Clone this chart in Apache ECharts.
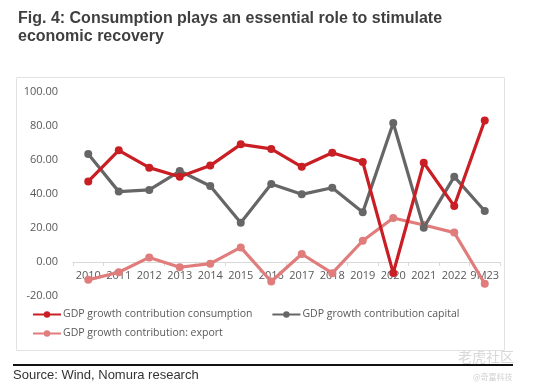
<!DOCTYPE html>
<html><head><meta charset="utf-8">
<script src="https://cdn.jsdelivr.net/npm/echarts@6/dist/echarts.min.js"></script>
<style>html,body{margin:0;padding:0;background:#fff}#c{width:534px;height:389px}</style>
</head><body><div id="c"></div>
<script>
const categories = ['2010','2011','2012','2013','2014','2015','2016','2017','2018','2019','2020','2021','2022','9M23'];
const consumption = [47.4, 65.7, 55.5, 50.2, 56.7, 69.2, 66.5, 56.0, 64.3, 58.8, -6.5, 58.4, 32.9, 83.3];
const capital = [63.5, 41.4, 42.4, 53.5, 44.7, 23.1, 45.9, 39.8, 43.7, 29.2, 81.8, 20.2, 50.2, 30.0];
const exportC = [-10.5, -6.0, 2.7, -3.1, -1.0, 8.6, -11.5, 4.7, -6.6, 12.5, 25.9, 21.8, 17.3, -12.8];
const yTicks = [-20, 0, 20, 40, 60, 80, 100];
const names = ['GDP growth contribution consumption', 'GDP growth contribution capital', 'GDP growth contribution: export'];
const colors = ['#C81E24', '#666666', '#E07C7C'];

const chart = echarts.init(document.getElementById('c'), null, {renderer: 'canvas'});
const mk = (i, data) => ({
  name: names[i], type: 'line', data: data,
  symbol: 'circle', symbolSize: 8,
  lineStyle: {width: 3.2, color: colors[i]},
  itemStyle: {color: colors[i]},
  z: 3 - i
});
const legText = {fontFamily: 'Open Sans, Noto Sans', fontSize: 10.5, color: '#595959', padding: [0,0,0,-3]};
chart.setOption({
  animation: false,
  title: {
    text: 'Fig. 4: Consumption plays an essential role to stimulate\neconomic recovery',
    left: 13, top: 5,
    textStyle: {fontFamily: 'Liberation Sans, Arial', fontSize: 16, fontWeight: 'bold', color: '#3f3f3f', lineHeight: 18}
  },
  graphic: [
    {type: 'rect', shape: {x: 16.5, y: 77.5, width: 488, height: 273}, style: {fill: 'none', stroke: '#e2e2e2', lineWidth: 1}, z: 0},
    {type: 'rect', shape: {x: 13, y: 364, width: 500, height: 2}, style: {fill: '#111'}},
    {type: 'text', left: 13, top: 369, style: {text: 'Source: Wind, Nomura research', font: '13px Liberation Sans, Arial', fill: '#333'}},
    {type: 'text', left: 458, top: 350, style: {text: '老虎社区', font: '14px Noto Sans CJK SC', fill: '#d8d8d8'}},
    {type: 'text', left: 473, top: 373, style: {text: '@奇富科技', font: '8px Noto Sans CJK SC', fill: '#d0d0d0'}}
  ],
  legend: [
    {data: [names[0], names[1]], left: 32, top: 309, padding: 0, itemWidth: 28, itemHeight: 8, itemGap: 19, textStyle: legText},
    {data: [names[2]], left: 32, top: 328, padding: 0, itemWidth: 28, itemHeight: 8, textStyle: legText}
  ],
  grid: {left: 73, right: 34, top: 92, bottom: 93},
  xAxis: {
    type: 'category', data: categories, boundaryGap: true, offset: -34,
    axisLine: {onZero: false, lineStyle: {color: '#d9d9d9', width: 1}},
    axisTick: {show: true, length: 4, lineStyle: {color: '#d9d9d9'}},
    axisLabel: {color: '#595959', fontFamily: 'Open Sans, Noto Sans', fontSize: 11, margin: 8, interval: 0}
  },
  yAxis: {
    type: 'value', min: yTicks[0], max: yTicks[yTicks.length - 1], interval: 20,
    axisLine: {show: false}, axisTick: {show: false}, splitLine: {show: false},
    axisLabel: {color: '#595959', fontFamily: 'Open Sans, Noto Sans', fontSize: 11, margin: 15,
      formatter: v => v.toFixed(2)}
  },
  series: [mk(0, consumption), mk(1, capital), mk(2, exportC)]
});
</script></body></html>
